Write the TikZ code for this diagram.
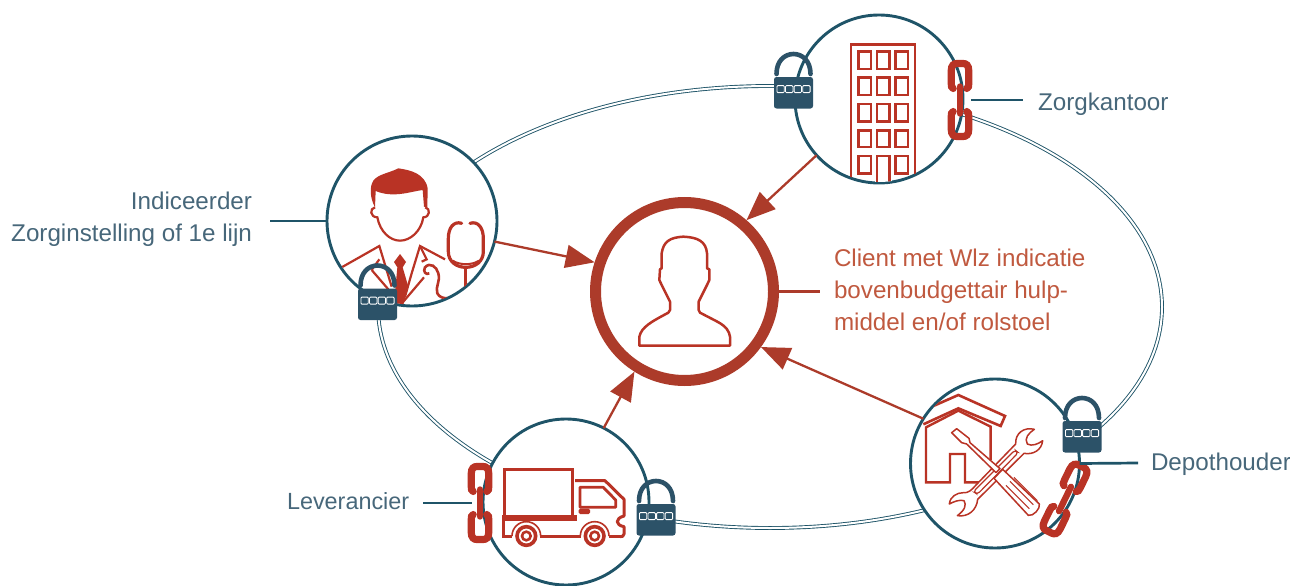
\documentclass[tikz,border=0pt]{standalone}
\usepackage{fontspec}
\setmainfont{Liberation Sans}
\usetikzlibrary{arrows.meta}
\definecolor{teal}{HTML}{1F5468}
\definecolor{lockc}{HTML}{2C5268}
\definecolor{iconr}{HTML}{B93325}
\definecolor{arrowr}{HTML}{AC3B2A}
\definecolor{labelc}{HTML}{47677A}
\definecolor{clientc}{HTML}{C0593F}
\tikzset{
  hub/.style={circle,draw=teal,fill=white,line width=2.9pt,minimum size=#1,inner sep=0pt,outer sep=0pt},
  clienthub/.style={circle,draw=arrowr,fill=white,line width=11pt,minimum size=178pt,inner sep=0pt,outer sep=5.5pt},
  relation/.style={draw=teal,line width=.9pt,double=white,double distance=2pt},
  lead/.style={draw=teal,line width=2.7pt},
  feed/.style={draw=arrowr,line width=2.3pt,-{Triangle[length=29pt,width=23pt]}},
  tag/.style={text=labelc,font=\fontsize{24.2}{31.5}\selectfont,inner sep=0pt,outer sep=0pt},
  ico/.style={draw=iconr,line width=2.4pt,line join=miter},
  icofine/.style={draw=iconr,line width=1.5pt,fill=white,line join=round},
  zoomed/.style={x=.33333pt,y=-.33333pt},
  padlock/.pic={
    \draw[lockc,line width=4.6pt,line cap=round] (-17,-3) .. controls (-17,-16) and (-9,-23) .. (0,-23) .. controls (9,-23) and (17,-16) .. (17,-3);
    \fill[lockc,rounded corners=2.5pt] (-19.5,0) rectangle (19.5,31.5);
    \foreach \k in {-12.9,-4.3,4.3,12.9}
      \draw[white,line width=.8pt,fill=lockc,rounded corners=1pt] (\k-3.7,8.6) rectangle (\k+3.7,15.6);
  },
  chainlink/.pic={
    \draw[iconr,line width=7.2pt,line cap=round] (-6.8,-11.5) .. controls (-8.5,-12) and (-8.8,-14) .. (-8.8,-17) -- (-8.8,-29) .. controls (-8.8,-35) and (-6,-36.5) .. (-3,-36.5) -- (3,-36.5) .. controls (6,-36.5) and (8.8,-35) .. (8.8,-29) -- (8.8,-17) .. controls (8.8,-14) and (8.5,-12) .. (6.8,-11.5);
    \draw[iconr,line width=7.2pt,line cap=round] (-6.8,11.5) .. controls (-8.5,12) and (-8.8,14) .. (-8.8,17) -- (-8.8,29) .. controls (-8.8,35) and (-6,36.5) .. (-3,36.5) -- (3,36.5) .. controls (6,36.5) and (8.8,35) .. (8.8,29) -- (8.8,17) .. controls (8.8,14) and (8.5,12) .. (6.8,11.5);
    \draw[iconr,line width=6.4pt,line cap=round] (0,-13.5) -- (0,13.5);
  }
}
\begin{document}
\begin{tikzpicture}[x=1pt,y=-1pt]
\useasboundingbox (0,0) rectangle (1290,586);
% ring
\draw[relation] (770,307) ellipse [x radius=392,y radius=221];
% hubs
\node[hub=168pt] (zk) at (879,99) {};
\node[hub=170pt] (ind) at (412,221) {};
\node[hub=166pt] (lev) at (566,502) {};
\node[hub=169pt] (dep) at (995,463.5) {};
\node[clienthub] (cl) at (684.5,291.5) {};
% arrows
\draw[feed] (zk.222.6) -- (cl.49.2);
\draw[feed] (ind.346) -- (cl.162.7);
\draw[feed] (lev.63.7) -- (cl.238.7);
\draw[feed] (dep.148) -- (cl.324.7);
% building
\begin{scope}
\clip (879,99) circle (83);
\draw[ico] (851,190) -- (851,44.5) -- (915,44.5) -- (915,190);
\foreach \wy/\wh in {51.5/17.5,77.5/17.5,104/17.5,130.5/16.5,156/17.5}
  \foreach \wx in {858.5,877,895.5}
    \draw[ico,line width=2.4pt] (\wx,\wy) rectangle +(12.5,\wh);
\fill[white] (875,154) rectangle (892,190);
\draw[ico] (877,190) -- (877,156) -- (889.5,156) -- (889.5,190);
\end{scope}
% doctor
\begin{scope}[shift={(320,130)},zoomed]
\begin{scope}
\clip (277,272) circle (252);
\fill[iconr] (165,232) .. controls (150,205) and (148,170) .. (160,152) .. controls (175,132) and (205,130) .. (235,115) .. controls (270,120) and (315,130) .. (323,175) -- (322,232) -- (312,230) -- (308,180) .. controls (270,185) and (220,205) .. (167,183) -- cycle;
\draw[iconr,line width=2.2pt] (165,232) .. controls (148,235) and (150,262) .. (172,262) .. controls (180,305) and (210,332) .. (240,332) .. controls (270,332) and (303,305) .. (310,262) .. controls (330,262) and (332,235) .. (316,232);
\draw[iconr,line width=2.2pt] (65,412) -- (178,348) -- (215,470);
\draw[iconr,line width=2.2pt] (155,420) -- (178,388) (155,420) -- (205,478);
\draw[iconr,line width=2.2pt] (375,388) -- (300,348) -- (275,430) -- (255,500);
\draw[iconr,line width=2.2pt] (300,348) -- (320,388) -- (305,395) (312,442) -- (250,515);
\fill[iconr] (240,372) -- (222,396) -- (232,412) -- (222,520) -- (250,525) -- (265,470) -- (248,412) -- (258,396) -- cycle;
\draw[iconr,line width=2.6pt] (328,430) .. controls (318,436) and (308,425) .. (315,412) .. controls (330,395) and (350,410) .. (355,430) .. controls (362,455) and (345,470) .. (352,490) .. controls (358,502) and (370,505) .. (385,505);
\draw[iconr,line width=3.2pt,line cap=round] (425,280) .. controls (400,272) and (385,295) .. (385,325) -- (385,365) .. controls (385,395) and (410,412) .. (437,412) .. controls (465,412) and (490,395) .. (490,365) -- (490,325) .. controls (490,295) and (475,272) .. (450,280);
\draw[iconr,line width=2pt] (398,392) .. controls (420,406) and (455,406) .. (477,392);
\draw[iconr,line width=3pt] (437,412) -- (437,480);
\end{scope}
\end{scope}
% truck
\begin{scope}[shift={(450,410)},zoomed]
\draw[iconr,line width=3pt] (162,178) rectangle (368,322);
\fill[iconr] (157,315) rectangle (380,333);
\draw[iconr,line width=3pt] (160,330) -- (160,380) -- (187,380) (271,380) -- (392,380) (476,380) -- (510,380);
\draw[iconr,line width=3pt,line join=round] (375,212) -- (465,212) -- (522,268) -- (522,318) .. controls (495,325) and (495,345) .. (522,350) -- (522,372) .. controls (522,380) and (515,380) .. (510,380);
\draw[iconr,line width=2.8pt,line join=round] (390,232) -- (460,232) -- (497,270) -- (497,292) -- (390,292) -- cycle;
\fill[iconr,rounded corners=1.5pt] (386,296) rectangle (420,312);
\foreach \wx in {229,434} {
  \fill[white] (\wx,378) circle (41);
  \draw[iconr,line width=1.6pt] (\wx-43,378) arc (180:360:43);
  \draw[iconr,line width=3.6pt] (\wx,378) circle (28);
  \draw[iconr,line width=2.6pt] (\wx,378) circle (13);
}
\end{scope}
% house and tools
\begin{scope}[shift={(900,370)},zoomed]
\begin{scope}
\clip (285,281) circle (250);
\draw[iconr,line width=2.6pt] (70,163) -- (175,115) -- (302,168) -- (315,138) -- (175,75) -- (100,108);
\draw[iconr,line width=2.4pt] (240,337) -- (195,337) -- (195,252) -- (150,252) -- (150,337) -- (78,337) -- (78,172) -- (175,122) -- (272,170) -- (272,270);
\end{scope}
\path[icofine] (403,178) .. controls (372,170) and (345,190) .. (347,222) -- (228,345) .. controls (215,360) and (205,370) .. (190,368) .. controls (170,368) and (150,380) .. (148,402) .. controls (160,395) and (180,388) .. (192,392) .. controls (200,405) and (195,420) .. (172,437) .. controls (205,442) and (230,420) .. (233,388) -- (372,250) .. controls (400,255) and (425,240) .. (428,212) .. controls (415,222) and (395,230) .. (382,222) .. controls (372,205) and (385,190) .. (403,178) -- cycle;
\draw[iconr,line width=1.2pt,fill=white,rounded corners=3pt] (220,365) -- (345,240) -- (355,248) -- (232,373) -- cycle;
\path[icofine] (155,188) -- (170,176) -- (207,205) -- (210,218) -- (300,296) -- (288,308) -- (200,222) -- (185,218) -- cycle;
\path[icofine] (282,325) -- (308,298) -- (418,402) .. controls (422,415) and (400,440) .. (385,436) -- cycle;
\foreach \a/\b in {0/0,12/-12,24/-24}
  \draw[iconr,line width=1.1pt] (318+\a,322+\b+24) -- (388+\a,392+\b+24);
\end{scope}
% person
\begin{scope}[shift={(580,190)},zoomed]
\draw[iconr,line width=2.5pt,line join=round] (178,467) -- (178,440) .. controls (185,410) and (215,395) .. (265,368) -- (270,360) -- (270,335) -- (245,285) -- (238,270) -- (240,238) -- (245,235) -- (245,190) .. controls (250,155) and (270,142) .. (310,140) .. controls (355,142) and (378,155) .. (381,190) -- (381,235) -- (388,238) -- (388,270) -- (381,285) -- (356,335) -- (356,360) -- (360,368) -- (412,395) .. controls (440,410) and (448,425) .. (450,440) -- (450,467) -- cycle;
\end{scope}
% locks
\pic at (793.5,77) {padlock};
\pic at (377.5,288.5) {padlock};
\pic at (656,504) {padlock};
\pic at (1082,421) {padlock};
% links
\pic at (960,100) {chainlink};
\pic at (480,503) {chainlink};
\pic[rotate=-26] at (1065,499) {chainlink};
% labels
\node[tag,anchor=base west] (zkl) at (1038,110) {Zorgkantoor};
\node[tag,anchor=base east,align=right] (indl) at (252,241) {Indiceerder\\Zorginstelling of 1e lijn};
\node[tag,anchor=base west,font=\fontsize{23.4}{31.5}\selectfont] (levl) at (287,509) {Leverancier};
\node[tag,anchor=base west] (depl) at (1151,470) {Depothouder};
\node[tag,anchor=base west,align=left,text=clientc,font=\fontsize{24.2}{32}\selectfont] (cll) at (834,330) {Client met Wlz indicatie\\bovenbudgettair hulp-\\middel en/of rolstoel};
\coordinate (zkA) at (971,100);
\coordinate (zkB) at (1023,100);
\coordinate (indB) at (270,221);
\coordinate (levA) at (423,503);
\coordinate (levB) at (472,503);
\coordinate (depB) at (1138,463);
\coordinate (clB) at (820,291.5);
\draw[lead] (zkA) -- (zkB);
\draw[lead] (indB) -- (ind.west);
\draw[lead] (levA) -- (levB);
\draw[lead] (dep.east) -- (depB);
\draw[draw=arrowr,line width=2.2pt] (cl.east) -- (clB);
\end{tikzpicture}
\end{document}
